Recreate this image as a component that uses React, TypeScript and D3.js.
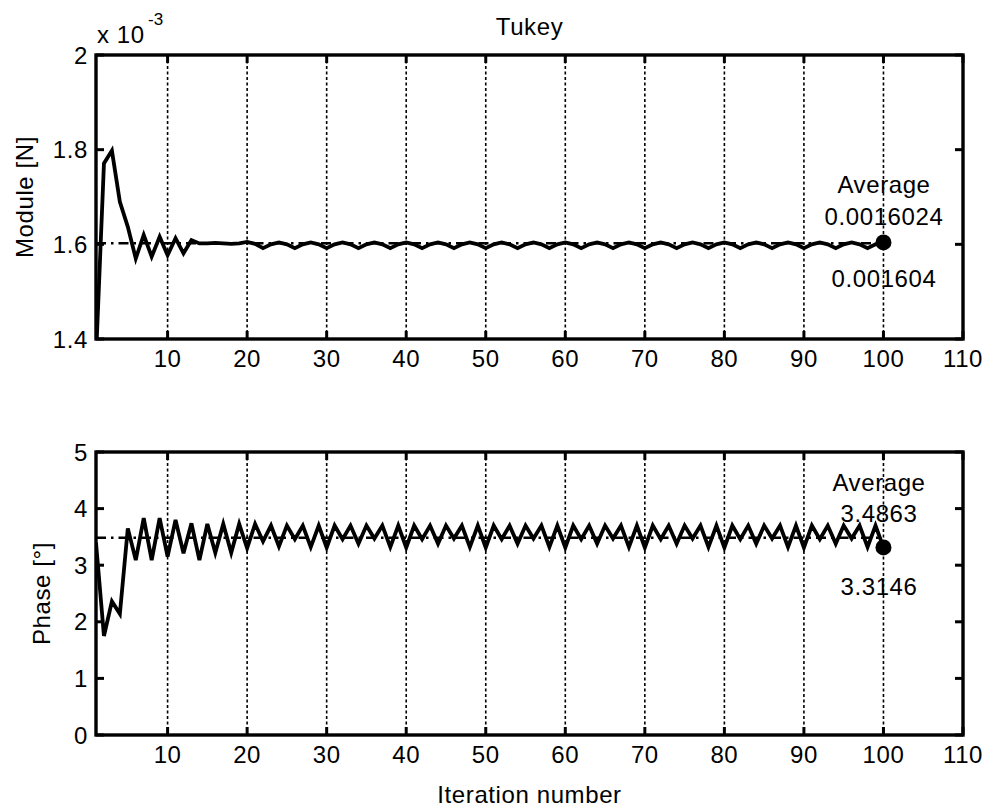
import React from 'react';
import * as d3 from 'd3';

// ---- data ----
// Module values, in units of 1e-3 N, iterations 1..100
const moduleValues = [
  1.360, 1.771, 1.798, 1.690, 1.637, 1.570, 1.620, 1.574, 1.616, 1.577,
  1.613, 1.581, 1.609, 1.602, 1.602, 1.603, 1.602, 1.601, 1.602, 1.605,
  1.601, 1.592, 1.600, 1.604, 1.600, 1.592, 1.600, 1.604, 1.600, 1.592,
  1.600, 1.604, 1.600, 1.592, 1.600, 1.604, 1.600, 1.592, 1.600, 1.604,
  1.600, 1.592, 1.600, 1.604, 1.600, 1.592, 1.600, 1.604, 1.600, 1.592,
  1.600, 1.604, 1.600, 1.592, 1.600, 1.604, 1.600, 1.592, 1.600, 1.604,
  1.600, 1.592, 1.600, 1.604, 1.600, 1.592, 1.600, 1.604, 1.600, 1.592,
  1.600, 1.604, 1.600, 1.592, 1.600, 1.604, 1.600, 1.592, 1.600, 1.604,
  1.600, 1.592, 1.600, 1.604, 1.600, 1.592, 1.600, 1.604, 1.600, 1.592,
  1.600, 1.604, 1.600, 1.592, 1.600, 1.604, 1.600, 1.592, 1.600, 1.604,
];
// Phase values in degrees, iterations 1..100
const phaseValues = [
  3.40, 1.75, 2.36, 2.14, 3.65, 3.09, 3.83, 3.09, 3.83, 3.15,
  3.80, 3.21, 3.74, 3.09, 3.73, 3.22, 3.73, 3.22, 3.73, 3.30,
  3.73, 3.42, 3.70, 3.33, 3.70, 3.46, 3.70, 3.32, 3.70, 3.31,
  3.70, 3.46, 3.70, 3.38, 3.70, 3.47, 3.70, 3.32, 3.70, 3.31,
  3.70, 3.46, 3.70, 3.38, 3.70, 3.47, 3.70, 3.32, 3.70, 3.31,
  3.70, 3.46, 3.70, 3.38, 3.70, 3.47, 3.70, 3.32, 3.70, 3.31,
  3.70, 3.46, 3.70, 3.38, 3.70, 3.47, 3.70, 3.32, 3.70, 3.31,
  3.70, 3.46, 3.70, 3.38, 3.70, 3.47, 3.70, 3.32, 3.70, 3.31,
  3.70, 3.46, 3.70, 3.38, 3.70, 3.47, 3.70, 3.32, 3.70, 3.31,
  3.70, 3.46, 3.70, 3.38, 3.70, 3.47, 3.70, 3.32, 3.70, 3.3146,
];
const xTicks = [10, 20, 30, 40, 50, 60, 70, 80, 90, 100, 110];
const moduleTicks = [1.4, 1.6, 1.8, 2];
const phaseTicks = [0, 1, 2, 3, 4, 5];
const moduleAverage = 1.6024;
const moduleLast = 1.604;
const phaseAverage = 3.4863;
const phaseLast = 3.3146;
const moduleAverageLabel = '0.0016024';
const moduleLastLabel = '0.001604';
const phaseAverageLabel = '3.4863';
const phaseLastLabel = '3.3146';
const titleText = 'Tukey';
const xLabelText = 'Iteration number';

const FONT = "'Liberation Sans', Arial, Helvetica, sans-serif";
const FS = 24;
const LS = 0.6;
const LEFT = 96;
const RIGHT = 963;

type PanelProps = {
  id: string;
  top: number;
  bottom: number;
  domain: [number, number];
  ticks: number[];
  values: number[];
  avg: number;
  last: number;
  avgLabel: string;
  lastLabel: string;
  yLabel: string;
  yLabelX: number;
  avgOffsets: [number, number];
  lastOffset: number;
  labelX: number;
};

const T = (props: any) => (
  <text fontSize={FS} fontFamily={FONT} letterSpacing={LS} {...props} />
);

function Panel(p: PanelProps) {
  const x = d3.scaleLinear().domain([1, 110]).range([LEFT, RIGHT]);
  const y = d3.scaleLinear().domain(p.domain).range([p.bottom, p.top]);
  const pts = p.values.map((v, i) => [i + 1, v] as [number, number]);
  const line = d3.line<[number, number]>().x(d => x(d[0])).y(d => y(d[1]));
  const tickLen = 8;
  const lastX = x(p.values.length);
  return (
    <g>
      <defs>
        <clipPath id={p.id}>
          <rect x={LEFT} y={p.top} width={RIGHT - LEFT} height={p.bottom - p.top} />
        </clipPath>
      </defs>
      {xTicks.filter(t => t < 110).map(t => (
        <line key={'g' + t} x1={x(t)} x2={x(t)} y1={p.top} y2={p.bottom}
          stroke="#000" strokeWidth={1.6} strokeDasharray="3,2.5" />
      ))}
      <line x1={x(1)} x2={lastX} y1={y(p.avg)} y2={y(p.avg)}
        stroke="#000" strokeWidth={2.6} strokeDasharray="10,5,2.5,5" clipPath={`url(#${p.id})`} />
      <path d={line(pts) || ''} fill="none" stroke="#000" strokeWidth={3.8}
        strokeLinejoin="miter" clipPath={`url(#${p.id})`} />
      <circle cx={lastX} cy={y(p.last)} r={8} fill="#000" />
      <rect x={LEFT} y={p.top} width={RIGHT - LEFT} height={p.bottom - p.top}
        fill="none" stroke="#000" strokeWidth={3.4} />
      {xTicks.map(t => (
        <g key={'x' + t}>
          <line x1={x(t)} x2={x(t)} y1={p.bottom} y2={p.bottom - tickLen} stroke="#000" strokeWidth={3} />
          <line x1={x(t)} x2={x(t)} y1={p.top} y2={p.top + tickLen} stroke="#000" strokeWidth={3} />
          <T x={x(t)} y={p.bottom + 28} textAnchor="middle">{t}</T>
        </g>
      ))}
      {p.ticks.map(t => (
        <g key={'y' + t}>
          <line x1={LEFT} x2={LEFT + tickLen} y1={y(t)} y2={y(t)} stroke="#000" strokeWidth={3} />
          <line x1={RIGHT} x2={RIGHT - tickLen} y1={y(t)} y2={y(t)} stroke="#000" strokeWidth={3} />
          <T x={LEFT - 8} y={y(t) + 8.5} textAnchor="end">{String(t)}</T>
        </g>
      ))}
      <T x={p.labelX} y={y(p.avg) - p.avgOffsets[0]} textAnchor="middle">Average</T>
      <T x={p.labelX} y={y(p.avg) - p.avgOffsets[1]} textAnchor="middle">{p.avgLabel}</T>
      <T x={p.labelX} y={y(p.last) + p.lastOffset} textAnchor="middle">{p.lastLabel}</T>
      <T transform={`translate(${p.yLabelX},${(p.top + p.bottom) / 2}) rotate(-90)`}
        textAnchor="middle">{p.yLabel}</T>
    </g>
  );
}

export default function App() {
  return (
    <svg width={990} height={810} style={{ position: 'absolute', left: 0, top: 0, background: '#fff' }}>
      <rect width={990} height={810} fill="#fff" />
      <T x={(LEFT + RIGHT) / 2} y={35} textAnchor="middle">{titleText}</T>
      <T x={97} y={43}>x 10</T>
      <text x={148} y={25} fontSize={17} fontFamily={FONT}>-3</text>
      <Panel id="clipTop" top={55} bottom={339} domain={[1.4, 2]} ticks={moduleTicks}
        values={moduleValues} avg={moduleAverage} last={moduleLast}
        avgLabel={moduleAverageLabel} lastLabel={moduleLastLabel}
        yLabel="Module [N]" yLabelX={33} avgOffsets={[50, 18]} lastOffset={45} labelX={884} />
      <Panel id="clipBottom" top={452} bottom={735} domain={[0, 5]} ticks={phaseTicks}
        values={phaseValues} avg={phaseAverage} last={phaseLast}
        avgLabel={phaseAverageLabel} lastLabel={phaseLastLabel}
        yLabel="Phase [°]" yLabelX={50} avgOffsets={[47, 16]} lastOffset={48} labelX={879} />
      <T x={(LEFT + RIGHT) / 2} y={803} textAnchor="middle">{xLabelText}</T>
    </svg>
  );
}
